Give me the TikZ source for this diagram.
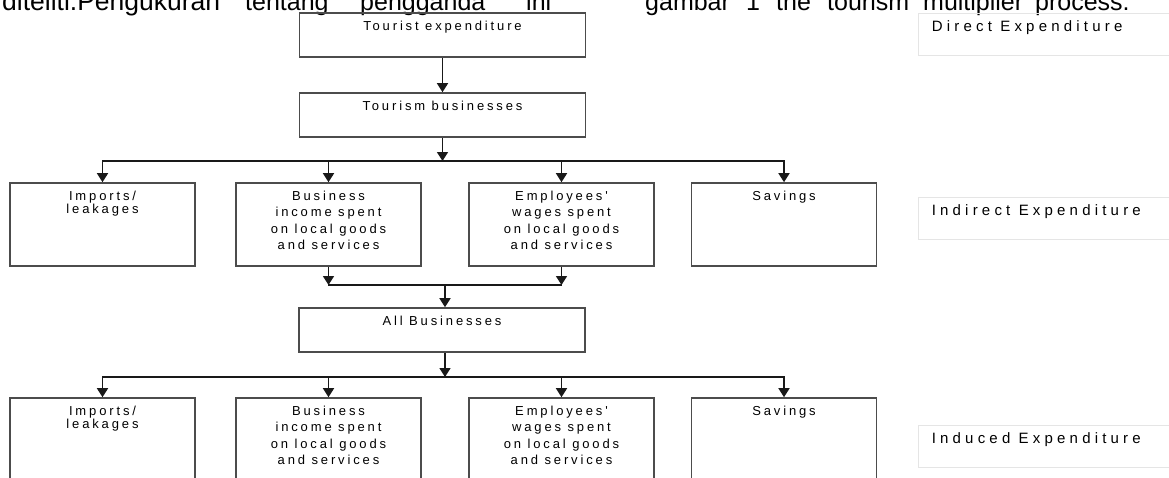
\documentclass[tikz,border=0pt]{standalone}
\usepackage{fontspec}
\setmainfont{Liberation Sans}
\newfontfamily\boxfont[LetterSpace=22]{Liberation Sans}
\newfontfamily\sidefont[LetterSpace=28]{Liberation Sans}
\usetikzlibrary{arrows.meta}

\begin{document}
\begin{tikzpicture}[x=1pt,y=-1pt,
    wide/.style={draw=black!70,line width=1.6pt,minimum width=286pt,minimum height=44pt,inner sep=0pt},
    cell/.style={draw=black!70,line width=1.6pt,minimum width=185pt,minimum height=83pt,inner sep=0pt},
    side/.style={draw=black!10,line width=0.8pt,minimum width=262pt,minimum height=42pt,inner sep=0pt},
    txt/.style={anchor=north,inner sep=0pt,yshift=-8.5pt,align=center,font=\boxfont\fontsize{13pt}{16.5pt}\selectfont},
    stxt/.style={anchor=north west,inner sep=0pt,xshift=14pt,yshift=-7.5pt,font=\sidefont\fontsize{15pt}{17pt}\selectfont},
    top/.style={anchor=base west,inner sep=0pt,font=\fontsize{25pt}{28pt}\selectfont},
    con/.style={draw=black!90,line width=1.6pt,line cap=rect},
    arr/.style={con,line cap=butt,-{Triangle[length=9pt,width=11pt]}}]
  \fill[white] (0,0) rectangle (1169,477);
  \useasboundingbox (0,0) rectangle (1169,477);

  % running text of the page, cut by the top edge
  \node[top,font=\fontsize{26.5pt}{28pt}\selectfont] (w1) at (2,10) {diteliti.Pengukuran};
  \node[top] (w2) at (245,10) {tentang};
  \node[top] (w3) at (360,10) {pengganda};
  \node[top] (w4) at (526,10) {ini};
  \node[top] (w5) at (645,10) {gambar};
  \node[top] (w6) at (746,10) {1};
  \node[top] (w7) at (776,10) {the};
  \node[top] (w8) at (827,10) {tourism};
  \node[top] (w9) at (923,10) {multiplier};
  \node[top] (w10) at (1035,10) {process.};

  % boxes
  \node[wide,label={[txt]north:Tourist expenditure}] (tour) at (442.5,35) {};
  \node[wide,label={[txt]north:Tourism businesses}] (tbus) at (442.5,115) {};
  \node[cell,label={[txt,font=\boxfont\fontsize{13pt}{13pt}\selectfont]north:Imports/\\leakages}] (imp1) at (102.5,224.5) {};
  \node[cell,label={[txt]north:Business\\income spent\\on local goods\\and services}] (bus1) at (328.5,224.5) {};
  \node[cell,label={[txt]north:Employees'\\wages spent\\on local goods\\and services}] (emp1) at (561.5,224.5) {};
  \node[cell,label={[txt]north:Savings}] (sav1) at (784,224.5) {};
  \node[wide,label={[txt]north:All Businesses}] (allb) at (442,330) {};
  \node[cell,label={[txt,font=\boxfont\fontsize{13pt}{13pt}\selectfont]north:Imports/\\leakages}] (imp2) at (102.5,439.5) {};
  \node[cell,label={[txt]north:Business\\income spent\\on local goods\\and services}] (bus2) at (328.5,439.5) {};
  \node[cell,label={[txt]north:Employees'\\wages spent\\on local goods\\and services}] (emp2) at (561.5,439.5) {};
  \node[cell,label={[txt]north:Savings}] (sav2) at (784,439.5) {};

  % side labels
  \node[side,label={[stxt]north west:Direct Expenditure}] (dlab) at (1049,34) {};
  \node[side,label={[stxt]north west:Indirect Expenditure}] (ilab) at (1049,218.5) {};
  \node[side,label={[stxt]north west:Induced Expenditure}] (ulab) at (1049,446) {};

  % connectors
  \coordinate (j1) at (443,161);
  \coordinate (j2) at (445,285);
  \coordinate (j3) at (445,377);
  \draw[arr] (tour) -- (tbus);
  \draw[arr] (tbus) -- (tbus |- j1);
  \draw[con] (imp1 |- j1) -- (sav1 |- j1);
  \foreach \n in {imp1,bus1,emp1,sav1}
    \draw[arr] (\n |- j1) -- (\n);
  \draw[arr] (bus1) -- (bus1 |- j2);
  \draw[arr] (emp1) -- (emp1 |- j2);
  \draw[con] (bus1 |- j2) -- (emp1 |- j2);
  \draw[arr] (j2) -- (j2 |- allb.north);
  \draw[arr] (allb.south -| j3) -- (j3);
  \draw[con] (imp2 |- j3) -- (sav2 |- j3);
  \foreach \n in {imp2,bus2,emp2,sav2}
    \draw[arr] (\n |- j3) -- (\n);
\end{tikzpicture}
\end{document}
